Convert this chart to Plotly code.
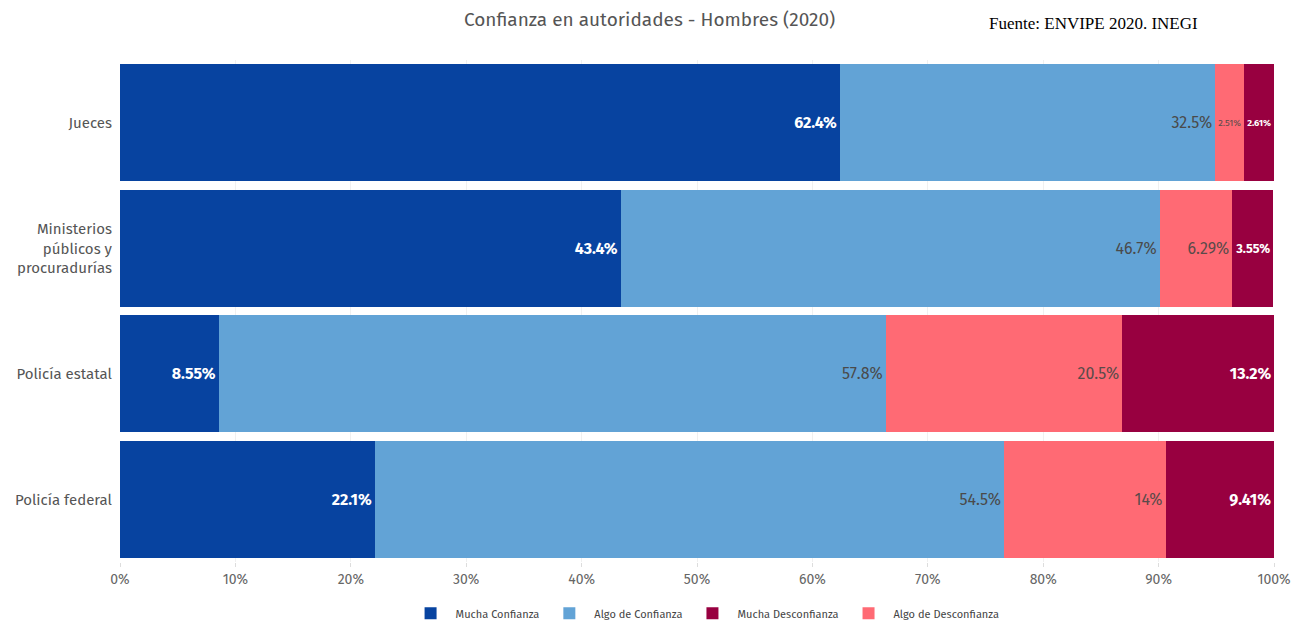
import plotly.graph_objects as go

# Datos (porcentajes) - ENVIPE 2020, hombres
autoridades = ["Jueces", "Ministerios<br>públicos y<br>procuradurías", "Policía estatal", "Policía federal"]
mucha_confianza = [62.4, 43.4, 8.55, 22.1]
algo_confianza = [32.5, 46.7, 57.8, 54.5]
algo_desconfianza = [2.51, 6.29, 20.5, 14]
mucha_desconfianza = [2.61, 3.55, 13.2, 9.41]

series = [
    # name, values, color, text color, bold, legend rank
    ("Mucha Confianza", mucha_confianza, "#0743a0", "white", True, 1),
    ("Algo de Confianza", algo_confianza, "#62a3d6", "#4a4a4a", False, 2),
    ("Algo de Desconfianza", algo_desconfianza, "#ff6a74", "#5a4a4a", False, 4),
    ("Mucha Desconfianza", mucha_desconfianza, "#980040", "white", True, 3),
]

FONT = "Fira Sans, Noto Sans, sans-serif"

fig = go.Figure()
for name, vals, color, tcolor, bold, rank in series:
    labels = [f"{v:.3g}%" for v in vals]
    if bold:
        labels = [f"<b>{t}</b>" for t in labels]
    fig.add_trace(go.Bar(
        y=autoridades,
        x=vals,
        name=name,
        orientation="h",
        marker=dict(color=color, line=dict(width=0)),
        text=labels,
        textposition="inside",
        insidetextanchor="end",
        textangle=0,
        textfont=dict(color=tcolor, size=16, family=FONT),
        legendrank=rank,
        hovertemplate="%{y}: %{x}%<extra>" + name + "</extra>",
    ))

# the page body adds an 8px offset, margins below account for it
fig.update_layout(
    barmode="stack",
    bargap=0.07,
    width=1304,
    height=624,
    plot_bgcolor="white",
    paper_bgcolor="white",
    font=dict(family=FONT, color="#555"),
    title=dict(
        text="Confianza en autoridades - Hombres (2020)",
        x=0.492, xanchor="center", y=0.982, yanchor="middle",
        font=dict(size=19, color="#555"),
    ),
    margin=dict(l=112, r=38, t=52, b=70, autoexpand=False),
    xaxis=dict(
        range=[0, 100],
        dtick=10,
        ticksuffix="%",
        showgrid=True,
        gridcolor="#f0f0f0",
        zeroline=False,
        ticks="outside",
        ticklen=4,
        tickcolor="#ddd",
        tickfont=dict(size=14, color="#666"),
        automargin=False,
    ),
    yaxis=dict(
        autorange="reversed",
        tickfont=dict(size=15, color="#555"),
        ticklen=4,
        tickcolor="white",
        ticks="outside",
        automargin=False,
    ),
    legend=dict(
        orientation="h",
        x=0.507, xanchor="center",
        y=-0.102, yanchor="middle",
        font=dict(size=11, color="#444"),
        traceorder="normal",
        itemwidth=40,
    ),
    annotations=[dict(
        text="Fuente: ENVIPE 2020. INEGI",
        xref="paper", yref="paper",
        x=0.936, y=1.072, xanchor="right", yanchor="middle",
        showarrow=False,
        font=dict(family="Liberation Serif, Times New Roman, serif", size=17, color="black"),
    )],
)

fig.write_html("out.html")
